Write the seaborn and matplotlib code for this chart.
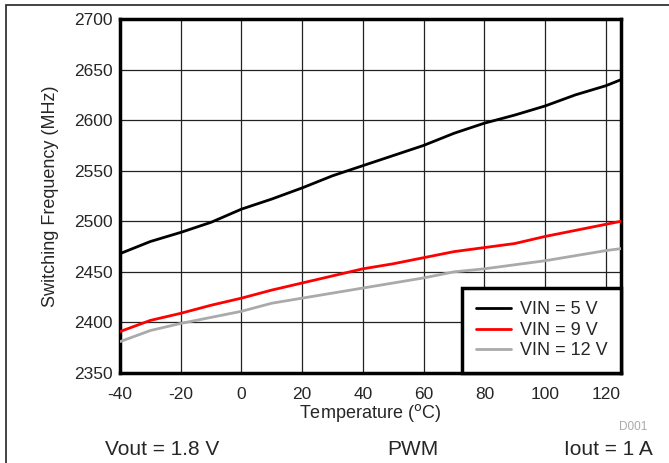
import matplotlib
matplotlib.use("Agg")
import matplotlib.pyplot as plt
import seaborn as sns
import pandas as pd
from matplotlib.patches import Rectangle

# Données
temperature = [-40, -30, -20, -10, 0, 10, 20, 30, 40, 50, 60, 70, 80, 90, 100, 110, 120, 125]
vin_5 = [2468, 2480, 2489, 2499, 2512, 2522, 2533, 2545, 2555, 2565, 2575, 2587, 2597, 2605, 2614, 2625, 2634, 2640]
vin_9 = [2391, 2402, 2409, 2417, 2424, 2432, 2439, 2446, 2453, 2458, 2464, 2470, 2474, 2478, 2485, 2491, 2497, 2500]
vin_12 = [2381, 2392, 2399, 2405, 2411, 2419, 2424, 2429, 2434, 2439, 2444, 2450, 2453, 2457, 2461, 2466, 2471, 2473]
series_labels = ["VIN = 5 V", "VIN = 9 V", "VIN = 12 V"]
colors = ["black", "red", "#aaaaaa"]
x_ticks = [-40, -20, 0, 20, 40, 60, 80, 100, 120]
y_ticks = [2350, 2400, 2450, 2500, 2550, 2600, 2650, 2700]

# Mise en forme long pour seaborn
df = pd.DataFrame({
    "temp": temperature * 3,
    "freq": vin_5 + vin_9 + vin_12,
    "serie": [series_labels[0]] * len(temperature) + [series_labels[1]] * len(temperature) + [series_labels[2]] * len(temperature),
})

sns.set_style("white")
plt.rcParams["font.family"] = ["Liberation Sans", "DejaVu Sans"]
plt.rcParams["axes.unicode_minus"] = False

fig = plt.figure(figsize=(6.69, 4.63), dpi=100)
ax = fig.add_axes([0.1794, 0.1944, 0.7489, 0.7646])

sns.lineplot(data=df, x="temp", y="freq", hue="serie", palette=dict(zip(series_labels, colors)),
             linewidth=2, ax=ax, zorder=3)

ax.set_xlim(-40, 125)
ax.set_ylim(2350, 2700)
ax.set_xticks(x_ticks)
ax.set_yticks(y_ticks)
ax.tick_params(axis="both", labelsize=12.5, length=0)
ax.tick_params(axis="x", pad=10)
ax.tick_params(axis="y", pad=5)
ax.grid(True, color="#222222", linewidth=0.9)
for s in ax.spines.values():
    s.set_visible(True)
    s.set_color("black")
    s.set_linewidth(2.5)

ax.set_xlabel("Temperature ($^{\\mathrm{o}}$C)", fontsize=13)
ax.set_ylabel("Switching Frequency (MHz)", fontsize=13)
ax.xaxis.set_label_coords(0.5, -0.082)
ax.yaxis.set_label_coords(-0.122, 0.5)

leg = ax.legend(loc="lower right", bbox_to_anchor=(1, 0), fontsize=13, frameon=True, fancybox=False,
                borderaxespad=0, handlelength=1.95, handletextpad=0.5, labelspacing=0.2, borderpad=0.75)
leg.get_frame().set_edgecolor("black")
leg.get_frame().set_linewidth(2.5)
leg.get_frame().set_alpha(1)

# Annotations du bas
fig.text(0.967, 0.071, "D001", color="#aaaaaa", fontsize=8.5, ha="right", va="baseline")
fig.text(0.157, 0.017, "Vout = 1.8 V", fontsize=15, va="baseline")
fig.text(0.617, 0.017, "PWM", fontsize=15, ha="center", va="baseline")
fig.text(0.976, 0.017, "Iout = 1 A", fontsize=15, ha="right", va="baseline")

# Cadre extérieur
fig.patches.append(Rectangle((0.009, -0.1), 1.2, 1.09, transform=fig.transFigure,
                             fill=False, edgecolor="#222222", linewidth=1.2))

fig.savefig("out.png", dpi=100)
